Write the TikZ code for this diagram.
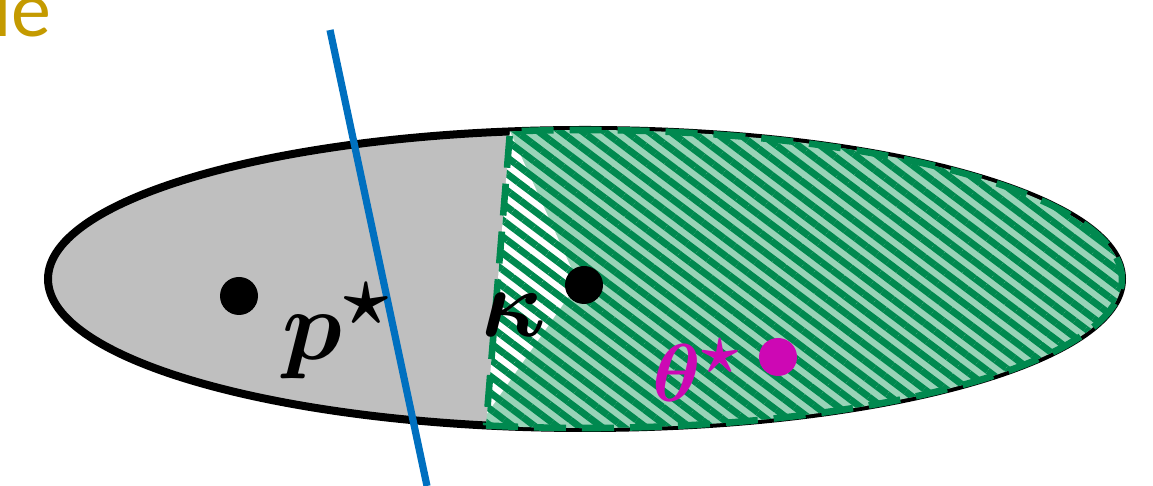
\documentclass[tikz,border=0pt]{standalone}
\usepackage{amsmath,bm,graphicx}
\usepackage{fontspec}
\newfontfamily\labelfont{Carlito}
\usetikzlibrary{patterns.meta,calc}
\definecolor{greyfill}{RGB}{191,191,191}
\definecolor{ltgreen}{RGB}{153,212,184}
\definecolor{dkgreen}{RGB}{0,137,79}
\definecolor{lineblue}{RGB}{0,112,192}
\definecolor{magentadot}{RGB}{205,8,180}
\definecolor{gold}{RGB}{196,154,0}
\tikzset{
  dot/.style={circle, inner sep=0pt, minimum size=19pt},
  mathlabel/.style={anchor=base, inner sep=0pt, font=\Huge},
  stripes/.style={pattern={Lines[angle=-37,distance=6.6pt,line width=3.4pt]}, pattern color=dkgreen},
}
\begin{document}
\begin{tikzpicture}[x=0.5pt,y=0.5pt]
\useasboundingbox (0,0) rectangle (1153,486);
\clip (0,0) rectangle (1153,486);
\coordinate (C) at (585,207);
% whole set
\fill[greyfill] (C) ellipse [x radius=537, y radius=149];
\draw[line width=4pt] (C) ellipse [x radius=537, y radius=149];
% green region
\path (C) ++(-100.62:537 and 149) coordinate (B);
\path (C) ++(98.03:537 and 149) coordinate (T);
\fill[ltgreen] (B) arc[start angle=-100.62, end angle=98.03, x radius=537, y radius=149] -- cycle;
\coordinate (A) at (578,203);
\fill[white] (T) -- (A) -- ($(B)!0.04!(T)$) -- cycle;
\fill[stripes] (B) arc[start angle=-100.62, end angle=98.03, x radius=537, y radius=149] -- cycle;
\draw[dkgreen, line width=3.3pt, dash pattern=on 16pt off 8pt] (B) arc[start angle=-100.62, end angle=98.03, x radius=537, y radius=149] -- cycle;
% separating line
\coordinate (L1) at (330,456);
\coordinate (L2) at (427,0);
\draw[lineblue, line width=3.6pt] (L1) -- (L2);
% points
\node[dot, fill=black] (p) at (239,190) {};
\node[dot, fill=black] (k) at (584,201) {};
\node[dot, fill=magentadot] (th) at (778,129) {};
% labels
\node[mathlabel] (plabel) at (337,126) {\scalebox{2}{$\bm{p^{\star}}$}};
\node[mathlabel] (klabel) at (514,149) {\scalebox{1.95}{$\bm{\kappa}$}};
\node[mathlabel, text=magentadot] (thlabel) at (697,84) {\scalebox{1.65}{$\bm{\theta^{\star}}$}};
\node[anchor=base east, inner sep=0pt, font=\labelfont\fontsize{40}{48}\selectfont, text=gold] (title) at (52,449) {le};
\end{tikzpicture}
\end{document}
